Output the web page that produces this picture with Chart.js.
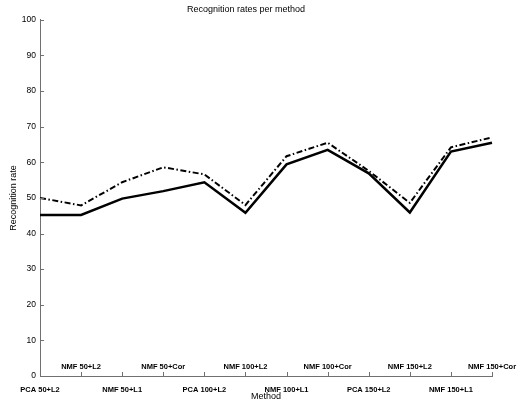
<!DOCTYPE html>
<html>
<head>
<meta charset="utf-8">
<script src="https://cdn.jsdelivr.net/npm/chart.js@4"></script>
<style>
  html, body { margin: 0; padding: 0; background: #fff; }
  #wrap { width: 518px; height: 404px; position: relative; }
</style>
</head>
<body>
<div id="wrap"><canvas id="rates"></canvas></div>
<script>
// Recognition rates per method
const methods = ['PCA 50+L2', 'NMF 50+L2', 'NMF 50+L1', 'NMF 50+Cor', 'PCA 100+L2', 'NMF 100+L2',
  'NMF 100+L1', 'NMF 100+Cor', 'PCA 150+L2', 'NMF 150+L2', 'NMF 150+L1', 'NMF 150+Cor'];
const solidRates = [45.2, 45.2, 49.8, 51.9, 54.4, 45.8, 59.4, 63.5, 56.9, 45.9, 63.0, 65.5];
const dashDotRates = [50.0, 47.9, 54.4, 58.6, 56.6, 48.0, 61.7, 65.5, 57.6, 48.6, 64.2, 67.0];
const yTicks = [0, 10, 20, 30, 40, 50, 60, 70, 80, 90, 100];

const fontFamily = "'Liberation Sans', Arial, Helvetica, sans-serif";
const axisColor = '#707070';

// inward tick marks and staggered x labels (matlab style)
const axisDecor = {
  id: 'axisDecor',
  afterDraw(chart) {
    const ctx = chart.ctx;
    const area = chart.chartArea;
    const xs = chart.scales.x;
    const ys = chart.scales.y;
    ctx.save();
    ctx.strokeStyle = axisColor;
    ctx.lineWidth = 1;
    ctx.beginPath();
    yTicks.forEach(v => {
      const y = Math.round(ys.getPixelForValue(v)) + 0.5;
      ctx.moveTo(area.left, y);
      ctx.lineTo(area.left + 4, y);
    });
    methods.forEach((m, i) => {
      const x = Math.round(xs.getPixelForValue(i)) + 0.5;
      ctx.moveTo(x, area.bottom);
      ctx.lineTo(x, area.bottom - 4);
    });
    ctx.stroke();

    ctx.fillStyle = '#000';
    ctx.font = 'bold 7.5px ' + fontFamily;
    ctx.textAlign = 'center';
    ctx.textBaseline = 'middle';
    methods.forEach((m, i) => {
      const x = xs.getPixelForValue(i);
      const y = i % 2 ? area.bottom - 9.5 : area.bottom + 14;
      ctx.fillText(m, x, y);
    });
    ctx.restore();
  }
};

const ctx = document.getElementById('rates').getContext('2d');
new Chart(ctx, {
  type: 'line',
  data: {
    labels: methods,
    datasets: [{
      data: solidRates,
      borderColor: '#000',
      borderWidth: 2.5,
      pointRadius: 0,
      tension: 0,
      fill: false
    }, {
      data: dashDotRates,
      borderColor: '#000',
      borderWidth: 2,
      borderDash: [6, 2.5, 1.5, 2.5],
      pointRadius: 0,
      tension: 0,
      fill: false
    }]
  },
  options: {
    responsive: true,
    maintainAspectRatio: false,
    animation: false,
    layout: { padding: { left: 0, right: 26, top: 0, bottom: 0 } },
    plugins: {
      legend: { display: false },
      tooltip: { enabled: false },
      title: {
        display: true,
        text: 'Recognition rates per method',
        color: '#000',
        font: { family: fontFamily, size: 9, weight: 'normal' },
        padding: { top: 4, bottom: 5 }
      }
    },
    scales: {
      x: {
        type: 'category',
        offset: false,
        grid: { display: false, drawTicks: false },
        border: { display: true, color: axisColor, width: 1 },
        ticks: { display: false },
        title: {
          display: true,
          text: 'Method',
          color: '#000',
          font: { family: fontFamily, size: 9 },
          padding: { top: 0, bottom: 2 }
        },
        afterFit(scale) { scale.height = 28; }
      },
      y: {
        min: 0,
        max: 100,
        grid: { display: false, drawTicks: false },
        border: { display: true, color: axisColor, width: 1 },
        afterBuildTicks(scale) { scale.ticks = yTicks.map(v => ({ value: v })); },
        ticks: {
          color: '#000',
          padding: 4,
          font: { family: fontFamily, size: 8.5 }
        },
        title: {
          display: true,
          text: 'Recognition rate',
          color: '#000',
          font: { family: fontFamily, size: 9 },
          padding: { top: 8, bottom: 0 }
        },
        afterFit(scale) { scale.width = 40; }
      }
    }
  },
  plugins: [axisDecor]
});
</script>
</body>
</html>
